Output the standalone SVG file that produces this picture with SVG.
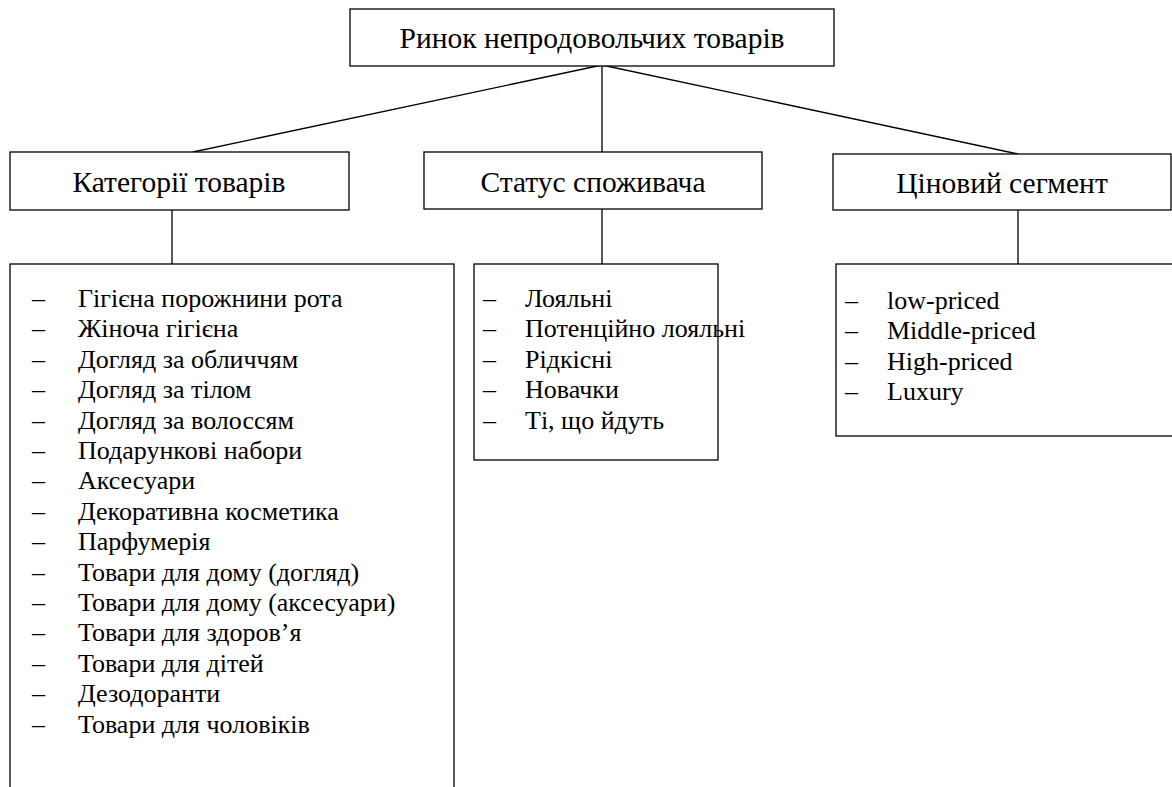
<svg xmlns="http://www.w3.org/2000/svg" width="1172" height="787" viewBox="0 0 1172 787">
<style>
.box{fill:#fff;stroke:#000;stroke-width:1.3}
.ln{stroke:#000;stroke-width:1.3;fill:none}
text{font-family:"Liberation Serif","Times New Roman",serif;fill:#000}
.h{font-size:29.5px;text-anchor:middle}
.i{font-size:26px}
</style>
<rect width="1172" height="787" fill="#fff"/>
<g id="connectors">
<line class="ln" x1="602" y1="65" x2="193" y2="152"/>
<line class="ln" x1="602" y1="65" x2="602" y2="152"/>
<line class="ln" x1="602" y1="65" x2="1018" y2="154"/>
<line class="ln" x1="172" y1="210" x2="172" y2="264"/>
<line class="ln" x1="602" y1="209" x2="602" y2="264"/>
<line class="ln" x1="1018" y1="210" x2="1018" y2="264"/>
</g>
<g id="root">
<rect class="box" x="350" y="9" width="484" height="57"/>
<text class="h" x="592" y="48">Ринок непродовольчих товарів</text>
</g>
<g id="cat">
<rect class="box" x="10" y="152" width="339" height="58"/>
<text class="h" x="179" y="192">Категорії товарів</text>
</g>
<g id="status">
<rect class="box" x="424" y="152" width="338" height="57"/>
<text class="h" x="593" y="192">Статус споживача</text>
</g>
<g id="price">
<rect class="box" x="833" y="154" width="338" height="56"/>
<text class="h" x="1002" y="193">Ціновий сегмент</text>
</g>
<g id="cat-list">
<rect class="box" x="10" y="264" width="444" height="540"/>
<g class="i">
<text x="32" y="307">–</text><text x="78" y="307">Гігієна порожнини рота</text>
<text x="32" y="337.4">–</text><text x="78" y="337.4">Жіноча гігієна</text>
<text x="32" y="367.8">–</text><text x="78" y="367.8">Догляд за обличчям</text>
<text x="32" y="398.2">–</text><text x="78" y="398.2">Догляд за тілом</text>
<text x="32" y="428.6">–</text><text x="78" y="428.6">Догляд за волоссям</text>
<text x="32" y="459">–</text><text x="78" y="459">Подарункові набори</text>
<text x="32" y="489.4">–</text><text x="78" y="489.4">Аксесуари</text>
<text x="32" y="519.8">–</text><text x="78" y="519.8">Декоративна косметика</text>
<text x="32" y="550.2">–</text><text x="78" y="550.2">Парфумерія</text>
<text x="32" y="580.6">–</text><text x="78" y="580.6">Товари для дому (догляд)</text>
<text x="32" y="611">–</text><text x="78" y="611">Товари для дому (аксесуари)</text>
<text x="32" y="641.4">–</text><text x="78" y="641.4">Товари для здоров’я</text>
<text x="32" y="671.8">–</text><text x="78" y="671.8">Товари для дітей</text>
<text x="32" y="702.2">–</text><text x="78" y="702.2">Дезодоранти</text>
<text x="32" y="732.6">–</text><text x="78" y="732.6">Товари для чоловіків</text>
</g>
</g>
<g id="status-list">
<rect class="box" x="474" y="264" width="244" height="196"/>
<g class="i">
<text x="483" y="307">–</text><text x="525" y="307">Лояльні</text>
<text x="483" y="337.4">–</text><text x="525" y="337.4">Потенційно лояльні</text>
<text x="483" y="367.8">–</text><text x="525" y="367.8">Рідкісні</text>
<text x="483" y="398.2">–</text><text x="525" y="398.2">Новачки</text>
<text x="483" y="428.6">–</text><text x="525" y="428.6">Ті, що йдуть</text>
</g>
</g>
<g id="price-list">
<rect class="box" x="836" y="264" width="340" height="172"/>
<g class="i">
<text x="845" y="309">–</text><text x="887" y="309">low-priced</text>
<text x="845" y="339.4">–</text><text x="887" y="339.4">Middle-priced</text>
<text x="845" y="369.8">–</text><text x="887" y="369.8">High-priced</text>
<text x="845" y="400.2">–</text><text x="887" y="400.2">Luxury</text>
</g>
</g>
</svg>
